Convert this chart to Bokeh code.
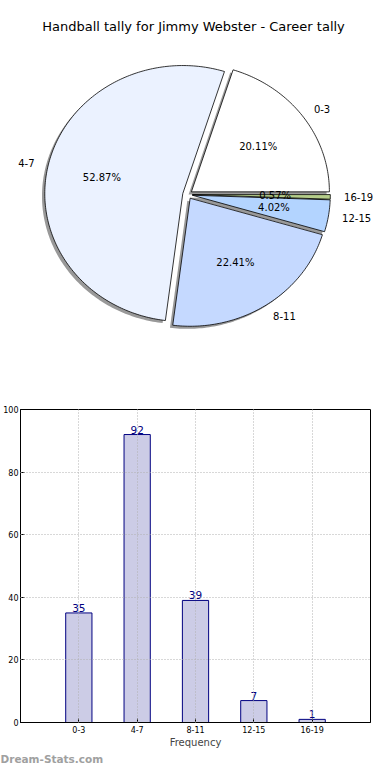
import numpy as np
from bokeh.plotting import figure
from bokeh.layouts import column
from bokeh.models import Range1d, FixedTicker, Label, Title, ColumnDataSource
from bokeh.core.properties import value
from bokeh.embed import file_html
from bokeh.resources import INLINE

# ---- data ----
categories = ["0-3", "4-7", "8-11", "12-15", "16-19"]
counts = [35, 92, 39, 7, 1]
pie_colors = ["#ffffff", "#ebf2ff", "#c5d9ff", "#b3d4ff", "#b5cd8a"]
title_text = "Handball tally for Jimmy Webster - Career tally"
y_ticks = [0, 20, 40, 60, 80, 100]
x_label = "Frequency"
watermark = "Dream-Stats.com"

FNAME = "DejaVu Sans"
FONT = value(FNAME)
BL, BR = 20, 4

# ---- pie figure (data coords = pixels, y negated) ----
p1 = figure(width=374, height=388, x_range=Range1d(0, 374), y_range=Range1d(-392, -4),
            min_border=0, toolbar_location=None, output_backend="svg",
            x_axis_location=None, y_axis_location=None)
p1.grid.visible = False
p1.outline_line_color = None

cx, cy = 187.0, -198.0
rx, ry = 138.0, 128.0
explode = 0.035
sh_dx, sh_dy = -2.8, -2.6

vals = np.array(counts, dtype=float)
frac = vals / vals.sum()
edges = np.concatenate([[0.0], np.cumsum(frac)]) * 2 * np.pi

xs, ys, sxs, sys_ = [], [], [], []
for i in range(len(vals)):
    a0, a1 = edges[i], edges[i + 1]
    m = 0.5 * (a0 + a1)
    ox = cx + explode * rx * np.cos(m)
    oy = cy + explode * ry * np.sin(m)
    n = max(3, int(np.degrees(a1 - a0)))
    th = np.linspace(a0, a1, n)
    px = np.concatenate([[ox], ox + rx * np.cos(th), [ox]])
    py = np.concatenate([[oy], oy + ry * np.sin(th), [oy]])
    xs.append(list(px)); ys.append(list(py))
    sxs.append(list(px + sh_dx)); sys_.append(list(py + sh_dy))
    p1.add_layout(Label(x=ox + 0.6 * rx * np.cos(m), y=oy + 0.6 * ry * np.sin(m),
                        text="%.2f%%" % (100 * frac[i]), text_align="center",
                        text_baseline="middle", text_font=FNAME, text_font_size="10px",
                        text_color="black", level="overlay"))
    p1.add_layout(Label(x=ox + 1.1 * rx * np.cos(m), y=oy + 1.1 * ry * np.sin(m),
                        text=categories[i], text_align="left" if np.cos(m) > 0 else "right",
                        text_baseline="middle", text_font=FNAME, text_font_size="10px",
                        text_color="black"))

p1.patches(xs=sxs, ys=sys_, fill_color="#333333", fill_alpha=0.5, line_color=None)
p1.patches(xs=xs, ys=ys, fill_color=pie_colors, line_color="black", line_width=0.8)
p1.add_layout(Label(x=193, y=-30, text=title_text, text_align="center", text_baseline="middle",
                    text_font=FNAME, text_font_size="13px", text_color="black"))

# ---- bar figure ----
idx = list(range(len(categories)))
src = ColumnDataSource(dict(x=idx, top=counts, lbl=[str(c) for c in counts]))
p2 = figure(width=374, height=376, x_range=Range1d(-1, 5), y_range=Range1d(0, 100),
            min_border_top=21, min_border_right=BR, min_border_left=BL, min_border_bottom=30,
            toolbar_location=None, output_backend="svg")
p2.vbar(x="x", top="top", width=0.45, source=src, fill_color="#ccccE6",
        line_color="#000080", line_width=1)
p2.text(x="x", y="top", text="lbl", source=src, text_align="center", text_baseline="bottom",
        y_offset=-1, text_font=FONT, text_font_size="10.5px", text_color="#000080")

p2.outline_line_color = "black"
p2.outline_line_alpha = 1
p2.yaxis.ticker = FixedTicker(ticks=y_ticks)
p2.xaxis.ticker = FixedTicker(ticks=idx)
p2.xaxis.major_label_overrides = {i: c for i, c in enumerate(categories)}
for ax in (p2.xaxis, p2.yaxis):
    ax.major_tick_in = 4
    ax.major_tick_out = 0
    ax.minor_tick_in = 0
    ax.minor_tick_out = 0
    ax.axis_line_color = "black"
    ax.major_tick_line_color = "black"
    ax.major_label_text_font = FNAME
    ax.major_label_text_font_size = "8px"
    ax.major_label_text_color = "black"
    ax.major_label_standoff = 3
p2.yaxis.major_label_standoff = 2
p2.xaxis.axis_label = x_label
p2.xaxis.axis_label_text_font = FNAME
p2.xaxis.axis_label_text_font_size = "10px"
p2.xaxis.axis_label_text_font_style = "normal"
p2.xaxis.axis_label_standoff = 1
p2.xgrid.ticker = FixedTicker(ticks=idx)
p2.ygrid.ticker = FixedTicker(ticks=y_ticks)
p2.grid.grid_line_color = "#b0b0b0"
p2.grid.grid_line_dash = "1 2"
p2.grid.level = "overlay"

p2.add_layout(Title(text=watermark, align="left", offset=-BL, standoff=0,
                    text_font=FNAME, text_font_size="10.5px", text_font_style="bold",
                    text_color="#a0a0a0"), "below")

for p in (p1, p2):
    if "frame_align" in p.properties():
        p.frame_align = False

layout = column(p1, p2)
open("out.html", "w").write(file_html(layout, INLINE))
